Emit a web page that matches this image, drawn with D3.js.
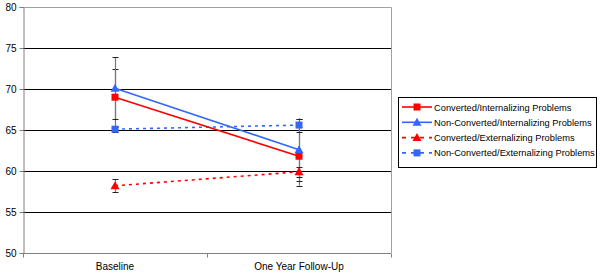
<!DOCTYPE html>
<html><head><meta charset="utf-8">
<script src="https://cdn.jsdelivr.net/npm/d3@7"></script>
<style>body{margin:0;background:#fff}svg{display:block;font-family:"Liberation Sans",Arial,sans-serif}</style>
</head><body><svg id="c" width="600" height="275"></svg>
<script>
const categories = ["Baseline", "One Year Follow-Up"];
const seriesNames = ["Converted/Internalizing Problems","Non-Converted/Internalizing Problems","Converted/Externalizing Problems","Non-Converted/Externalizing Problems"];
const convInt = [69.0, 61.8];
const nonConvInt = [70.1, 62.6];
const convExt = [58.2, 59.9];
const nonConvExt = [65.1, 65.6];
const convIntErr = [3.5, 3.6];
const nonConvIntErr = [3.8, 3.8];
const convExtErr = [0.8, 0.6];
const nonConvExtErr = [0.3, 0.8];
const yTicks = [50, 55, 60, 65, 70, 75, 80];

const series = [
  {name: seriesNames[0], values: convInt, err: convIntErr, color: "#FF0000", dash: null, marker: "square"},
  {name: seriesNames[1], values: nonConvInt, err: nonConvIntErr, color: "#3366FF", dash: null, marker: "triangle"},
  {name: seriesNames[2], values: convExt, err: convExtErr, color: "#FF0000", dash: "3,4", marker: "triangle"},
  {name: seriesNames[3], values: nonConvExt, err: nonConvExtErr, color: "#3366FF", dash: "3,4", marker: "square"}
];

const svg = d3.select("#c");
const L = 23, R = 391, T = 7, B = 253;
const x = d3.scaleBand().domain(categories).range([L, R]);
const y = d3.scaleLinear().domain([50, 80]).range([B, T]);
const cx = c => x(c) + x.bandwidth() / 2;

// gridlines
svg.append("g").selectAll("line").data(yTicks.filter(t => t > 50 && t < 80)).join("line")
  .attr("x1", L).attr("x2", R).attr("y1", d => y(d) + 0.5).attr("y2", d => y(d) + 0.5)
  .attr("stroke", "#000").attr("stroke-width", 1);
// plot border top/right
svg.append("path").attr("d", `M${L},${y(80)+0.5}H${R+0.5}V${B}`).attr("fill", "none").attr("stroke", "#a0a0a0");

// y axis
const ya = svg.append("g").attr("transform", `translate(${L + 0.5},0)`)
  .call(d3.axisLeft(y).tickValues(yTicks).tickSize(4).tickPadding(3));
ya.select(".domain").attr("stroke", "#808080");
ya.selectAll(".tick line").attr("stroke", "#808080");
ya.selectAll("text").attr("font-size", 10).attr("fill", "#000").attr("font-family", "Liberation Sans, Arial, sans-serif");

// x axis
const xa = svg.append("g").attr("transform", `translate(0,${B + 0.5})`);
xa.append("line").attr("x1", L).attr("x2", R).attr("stroke", "#808080");
xa.selectAll("line.t").data([L, x(categories[1]), R]).join("line").attr("class", "t")
  .attr("x1", d => d + 0.5).attr("x2", d => d + 0.5).attr("y1", 0).attr("y2", 4).attr("stroke", "#808080");
xa.selectAll("text").data(categories).join("text")
  .attr("x", d => cx(d)).attr("y", 16).attr("text-anchor", "middle")
  .attr("font-size", 10).attr("fill", "#000").text(d => d);

// error bars
const eg = svg.append("g");
series.forEach(s => {
  categories.forEach((c, i) => {
    const v = s.values[i], e = s.err[i], px = Math.round(cx(c)) + 0.5;
    eg.append("line").attr("x1", px).attr("x2", px).attr("y1", y(v + e)).attr("y2", y(v - e)).attr("stroke", "#777").attr("stroke-width", 1.2);
    [v + e, v - e].forEach(w => eg.append("line").attr("x1", px - 3).attr("x2", px + 3).attr("y1", Math.round(y(w)) + 0.5).attr("y2", Math.round(y(w)) + 0.5).attr("stroke", "#222").attr("stroke-width", 1));
  });
});

function drawMarker(g, type, px, py, color) {
  if (type === "square") {
    g.append("rect").attr("x", px - 3.5).attr("y", py - 3.5).attr("width", 7).attr("height", 7).attr("fill", color);
  } else {
    g.append("path").attr("d", `M${px},${py - 4.5}L${px + 4.5},${py + 3.5}L${px - 4.5},${py + 3.5}Z`).attr("fill", color);
  }
}

const line = d3.line().x((d, i) => cx(categories[i])).y(d => y(d));
const lg = svg.append("g");
[2, 3, 0, 1].forEach(k => {
  const s = series[k];
  lg.append("path").datum(s.values).attr("d", line).attr("fill", "none")
    .attr("stroke", s.color).attr("stroke-width", 1.6).attr("stroke-dasharray", s.dash);
  s.values.forEach((v, i) => drawMarker(lg, s.marker, cx(categories[i]), y(v), s.color));
});

// legend
const leg = svg.append("g");
leg.append("rect").attr("x", 398.5).attr("y", 97.5).attr("width", 198).attr("height", 70).attr("fill", "#fff").attr("stroke", "#000");
series.forEach((s, i) => {
  const ly = 107 + i * 15.3;
  leg.append("line").attr("x1", 402).attr("x2", 432).attr("y1", ly).attr("y2", ly)
    .attr("stroke", s.color).attr("stroke-width", 1.6).attr("stroke-dasharray", s.dash ? "4,5" : null);
  drawMarker(leg, s.marker, 417, ly, s.color);
  leg.append("text").attr("x", 434).attr("y", ly + 3.5).attr("font-size", 9.3).attr("fill", "#000").text(s.name);
});
</script></body></html>
